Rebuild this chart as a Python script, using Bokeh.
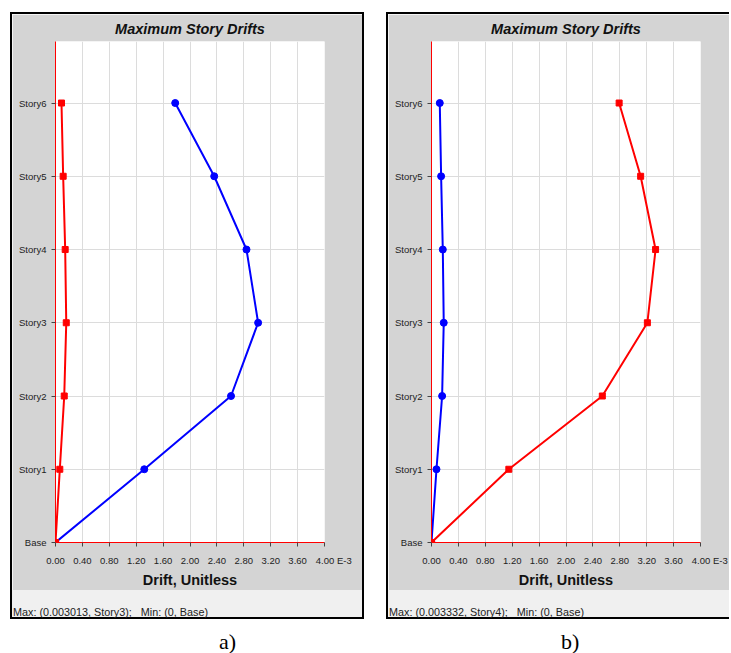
import numpy as np
from bokeh.plotting import figure
from bokeh.models import (ColumnDataSource, FixedTicker, NumeralTickFormatter, Range1d,
                          Div, Row, Column)
from bokeh.embed import file_html
from bokeh.resources import INLINE

# ---------------- data ----------------
stories = ["Base", "Story1", "Story2", "Story3", "Story4", "Story5", "Story6"]
levels = [0, 1, 2, 3, 4, 5, 6]
x_ticks = [0.0, 0.4, 0.8, 1.2, 1.6, 2.0, 2.4, 2.8, 3.2, 3.6, 4.0]   # in E-3
x_unit_suffix = "E-3"

# panel a)
a_blue = [0, 0.00132, 0.00261, 0.003013, 0.00284, 0.00236, 0.00178]
a_red = [0, 0.000064, 0.000130, 0.000160, 0.000144, 0.000114, 0.000089]
# panel b)
b_blue = [0, 0.000074, 0.000158, 0.000182, 0.000168, 0.000143, 0.000123]
b_red = [0, 0.00115, 0.00254, 0.00321, 0.003332, 0.00311, 0.00279]

status_a = "Max: (0.003013, Story3);&nbsp;&nbsp; Min: (0, Base)"
status_b = "Max: (0.003332, Story4);&nbsp;&nbsp; Min: (0, Base)"
titles = ["Maximum Story Drifts", "Maximum Story Drifts"]
x_label = "Drift, Unitless"
captions = ["a)", "b)"]

GRAY = "#d4d4d4"
FONT = "'Liberation Sans', Arial, sans-serif"


def make_fig(title, blue, red, width, mbr):
    p = figure(width=width, height=576, output_backend="svg", toolbar_location=None,
               x_range=Range1d(0, 4.0), y_range=Range1d(0, 6.84),
               min_border_left=43, min_border_right=mbr, min_border_top=26,
               min_border_bottom=47, border_fill_color=GRAY,
               background_fill_color="white", outline_line_color=None)
    p.title.text = title
    p.title.align = "center"
    p.title.text_font = FONT
    p.title.text_font_style = "bold italic"
    p.title.text_font_size = "14.5px"
    p.title.text_color = "#111111"
    p.title.standoff = 9

    xt = FixedTicker(ticks=x_ticks)
    yt = FixedTicker(ticks=levels)
    p.xaxis.ticker = xt
    p.yaxis.ticker = yt
    p.xgrid.ticker = xt
    p.ygrid.ticker = yt
    p.grid.grid_line_color = "#dcdcdc"
    p.grid.grid_line_width = 1
    p.xaxis.formatter = NumeralTickFormatter(format="0.00")
    p.yaxis.major_label_overrides = {lv: s for lv, s in zip(levels, stories)}
    # last x tick carries the unit suffix; leading no-break spaces keep "4.00" centred on its tick
    last = x_ticks[-1]
    p.xaxis.major_label_overrides = {last: "\u00a0" * 7 + "%.2f %s" % (last, x_unit_suffix)}

    for ax in (p.xaxis[0], p.yaxis[0]):
        ax.axis_line_color = "#ff0000"
        ax.axis_line_width = 1
        ax.major_tick_line_color = "#444444"
        ax.major_tick_out = 4
        ax.major_tick_in = 0
        ax.minor_tick_line_color = None
        ax.major_label_text_font = FONT
        ax.major_label_text_font_size = "9.5px"
        ax.major_label_text_color = "#222222"
    p.yaxis.major_label_standoff = 5
    p.xaxis.major_label_standoff = 8
    p.xaxis.axis_label = x_label
    p.xaxis.axis_label_text_font = FONT
    p.xaxis.axis_label_text_font_style = "bold"
    p.xaxis.axis_label_text_font_size = "14.5px"
    p.xaxis.axis_label_text_color = "#111111"
    p.xaxis.axis_label_standoff = 3

    src = ColumnDataSource(dict(
        y=levels,
        blue=np.array(blue) * 1e3,
        red=np.array(red) * 1e3,
    ))
    p.line("blue", "y", source=src, line_color="#0000ff", line_width=2)
    p.scatter("blue", "y", source=src, marker="circle", size=7,
              fill_color="#0000ff", line_color="#0000ff")
    p.line("red", "y", source=src, line_color="#ff0000", line_width=2)
    p.scatter("red", "y", source=src, marker="square", size=6,
              fill_color="#ff0000", line_color="#ff0000")
    return p


def status_div(text, width):
    return Div(text=('<div style="padding:16px 0 0 1px;font-family:%s;font-size:10.8px;'
                     'line-height:12px;color:#222;white-space:nowrap">%s</div>') % (FONT, text),
               width=width, height=27, margin=0,
               styles={"background-color": "#f0f0f0"})


fa = make_fig(titles[0], a_blue, a_red, 350, 38)
fb = make_fig(titles[1], b_blue, b_red, 341, 29)

panel_a = Column(children=[fa, status_div(status_a, 350)], spacing=0,
                 styles={"border": "2px solid #000000"})
panel_b = Column(children=[fb, status_div(status_b, 341)], spacing=0,
                 styles={"border-left": "2px solid #000000", "border-top": "2px solid #000000",
                         "border-bottom": "2px solid #000000"})

top = Row(children=[panel_a, panel_b], spacing=22, margin=(12, 0, 0, 10))

span = ('<span style="position:absolute;left:%dpx;top:12px;font-family:\'Liberation Serif\',serif;'
        'font-size:22px;line-height:22px;color:#000">%s</span>')
cap = Div(text=('<div style="position:relative;width:731px;height:34px;">'
                + span % (219, captions[0]) + span % (561, captions[1]) + '</div>'),
          width=731, height=34, margin=0)

root = Column(children=[top, cap], spacing=0)

with open("out.html", "w") as f:
    f.write(file_html(root, INLINE))
